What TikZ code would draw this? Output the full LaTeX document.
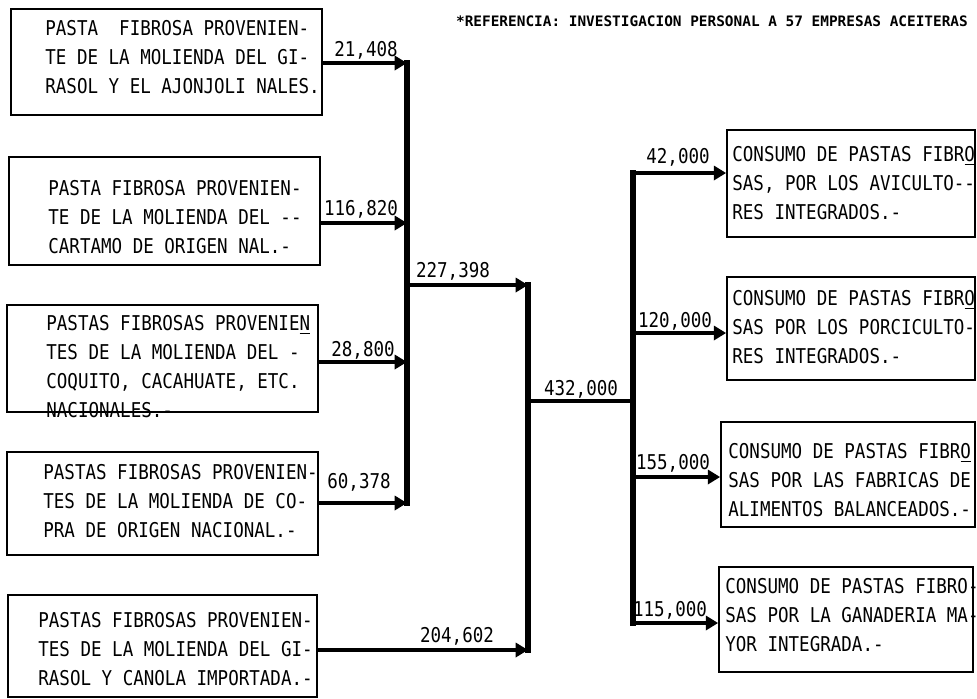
\documentclass[tikz,border=0pt]{standalone}
\usepackage{fontspec}
\newfontfamily\maquina[FakeStretch=0.86]{DejaVu Sans Mono}
\newfontfamily\maquinab{DejaVu Sans Mono}
\usetikzlibrary{arrows.meta}
\tikzset{
    caja/.style={draw, line width=1pt, inner sep=0cm},
    texto/.style={font=\maquina\fontsize{11.6}{16.5}\selectfont, align=left, inner sep=0cm, anchor=west},
    cifra/.style={font=\maquina\fontsize{11.6}{12}\selectfont, inner sep=0cm},
    titulo/.style={font=\maquinab\bfseries\fontsize{8.2}{10}\selectfont, inner sep=0cm},
    flujo/.style={line width=2.8pt, -{Triangle[length=7pt, width=8pt]}},
    barra/.style={line width=3pt, line cap=rect},
    total/.style={line width=2.2pt}
}
\newcommand{\caja}[6]{
    \node[caja, minimum width=#3, minimum height=#4] (#1) at (#2) {};
    \node[texto] (#1-t) at (#5) {#6};
}

\begin{document}
\begin{tikzpicture}[x=0.02cm, y=-0.02cm]
    \useasboundingbox (0, 0) rectangle (977, 698);
    \node[titulo] (ref) at (712, 21) {*REFERENCIA: INVESTIGACION PERSONAL A 57 EMPRESAS ACEITERAS};
    \caja{pgir}{166.5, 62}{6.22cm}{2.12cm}{45, 57}{PASTA~ FIBROSA PROVENIEN-\\TE DE LA MOLIENDA DEL GI-\\RASOL Y EL AJONJOLI NALES.}
    \caja{pcar}{164.5, 211}{6.22cm}{2.16cm}{48, 217}{PASTA FIBROSA PROVENIEN-\\TE DE LA MOLIENDA DEL --\\CARTAMO DE ORIGEN NAL.-}
    \caja{pcoq}{162.5, 358.5}{6.22cm}{2.14cm}{46, 367}{PASTAS FIBROSAS PROVENIE\underline{N}\\TES DE LA MOLIENDA DEL -\\COQUITO, CACAHUATE, ETC.\\NACIONALES.-}
    \caja{pcop}{162.5, 503.5}{6.22cm}{2.06cm}{43, 501}{PASTAS FIBROSAS PROVENIEN-\\TES DE LA MOLIENDA DE CO-\\PRA DE ORIGEN NACIONAL.-}
    \caja{pimp}{162.5, 646}{6.18cm}{2.04cm}{38, 649}{PASTAS FIBROSAS PROVENIEN-\\TES DE LA MOLIENDA DEL GI-\\RASOL Y CANOLA IMPORTADA.-}
    \caja{cavi}{851, 183.5}{4.96cm}{2.14cm}{732, 183}{CONSUMO DE PASTAS FIBR\underline{O}\\SAS, POR LOS AVICULTO--\\RES INTEGRADOS.-}
    \caja{cpor}{851, 328.5}{4.96cm}{2.06cm}{732, 327}{CONSUMO DE PASTAS FIBR\underline{O}\\SAS POR LOS PORCICULTO-\\RES INTEGRADOS.-}
    \caja{cfab}{848, 474.5}{5.08cm}{2.1cm}{728, 480}{CONSUMO DE PASTAS FIBR\underline{O}\\SAS POR LAS FABRICAS DE\\ALIMENTOS BALANCEADOS.-}
    \caja{cgan}{846, 619.5}{5.08cm}{2.1cm}{725, 615}{CONSUMO DE PASTAS FIBRO-\\SAS POR LA GANADERIA MA-\\YOR INTEGRADA.-}
    \coordinate (j21) at (407, 63);
    \coordinate (j116) at (407, 223);
    \coordinate (j227) at (407, 285);
    \coordinate (j288) at (407, 362);
    \coordinate (j603) at (407, 503);
    \coordinate (k227) at (528, 285);
    \coordinate (k432) at (528, 401);
    \coordinate (k204) at (528, 650);
    \coordinate (m432) at (633, 401);
    \coordinate (m42) at (633, 173);
    \coordinate (m120) at (633, 333);
    \coordinate (m155) at (633, 477);
    \coordinate (m115) at (633, 623);
    \node[cifra] (c21) at (366, 50) {21,408};
    \node[cifra] (c116) at (361, 209) {116,820};
    \node[cifra] (c288) at (363, 350) {28,800};
    \node[cifra] (c603) at (359, 482) {60,378};
    \node[cifra] (c227) at (453, 271) {227,398};
    \node[cifra] (c204) at (457, 636) {204,602};
    \node[cifra] (c432) at (581, 389) {432,000};
    \node[cifra] (c42) at (678, 157) {42,000};
    \node[cifra] (c120) at (675, 321) {120,000};
    \node[cifra] (c155) at (673, 463) {155,000};
    \node[cifra] (c115) at (670, 610) {115,000};
    \draw[barra]
    (j21) -- (j603)
    (k227) -- (k204)
    (m42) -- (m115);
    \draw[total] (k432) -- (m432);
    \path[flujo]
    (pgir.east |- j21) edge (j21)
    (pcar.east |- j116) edge (j116)
    (pcoq.east |- j288) edge (j288)
    (pcop.east |- j603) edge (j603)
    (j227) edge (k227)
    (pimp.east |- k204) edge (k204)
    (m42) edge (cavi.west |- m42)
    (m120) edge (cpor.west |- m120)
    (m155) edge (cfab.west |- m155)
    (m115) edge (cgan.west |- m115);
\end{tikzpicture}
\end{document}
